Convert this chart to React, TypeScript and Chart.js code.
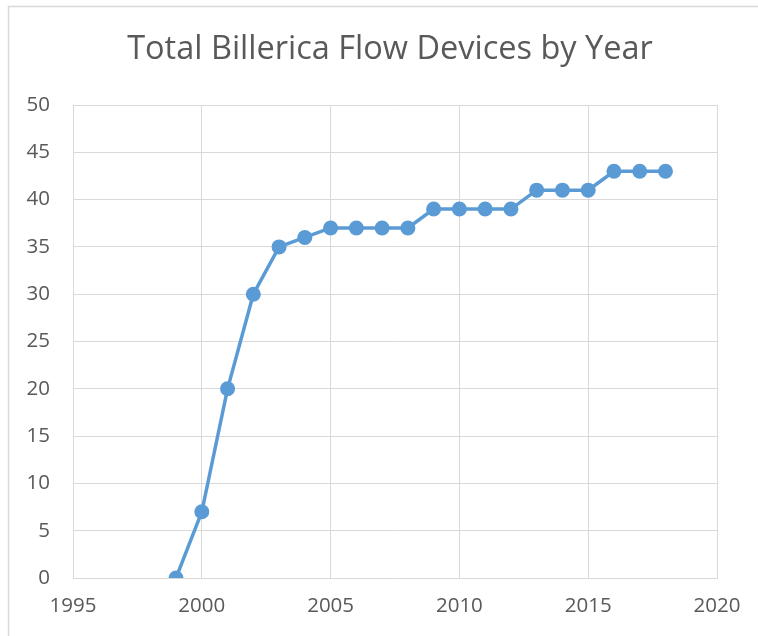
import React, { useEffect, useRef } from "react";
import { Chart, registerables } from "chart.js";

Chart.register(...registerables);

const years = [1999, 2000, 2001, 2002, 2003, 2004, 2005, 2006, 2007, 2008, 2009, 2010, 2011, 2012, 2013, 2014, 2015, 2016, 2017, 2018];
const devices = [0, 7, 20, 30, 35, 36, 37, 37, 37, 37, 39, 39, 39, 39, 41, 41, 41, 43, 43, 43];
const xTicks = [1995, 2000, 2005, 2010, 2015, 2020];
const yTicks = [0, 5, 10, 15, 20, 25, 30, 35, 40, 45, 50];
const titleText = "Total Billerica Flow Devices by Year";

const W = 758;
const H = 636;
const FONT = "'Open Sans', 'Noto Sans', sans-serif";
const TEXT = "#595959";
const GRID = "#d9d9d9";
const SERIES = "#5b9bd5";

const borderPlugin = {
  id: "outerBorder",
  beforeDraw(chart: any) {
    const ctx = chart.ctx;
    ctx.save();
    ctx.fillStyle = "#ffffff";
    ctx.fillRect(0, 0, chart.width, chart.height);
    ctx.strokeStyle = GRID;
    ctx.lineWidth = 1.5;
    ctx.strokeRect(8.5, 6.5, chart.width + 50, chart.height + 50);
    ctx.restore();
  },
};

export default function App() {
  const ref = useRef<HTMLCanvasElement | null>(null);

  useEffect(() => {
    if (!ref.current) return;
    const chart = new Chart(ref.current, {
      type: "line",
      data: {
        datasets: [
          {
            label: "Devices",
            data: years.map((y, i) => ({ x: y, y: devices[i] })),
            borderColor: SERIES,
            backgroundColor: SERIES,
            borderWidth: 3.5,
            pointRadius: 7.5,
            pointHoverRadius: 7.5,
            pointBackgroundColor: SERIES,
            pointBorderColor: SERIES,
            pointBorderWidth: 0,
            tension: 0,
            fill: false,
          },
        ],
      },
      options: {
        animation: false,
        responsive: false,
        maintainAspectRatio: false,
        layout: { padding: { left: 22, right: 0, top: 0, bottom: 0 } },
        plugins: {
          legend: { display: false },
          tooltip: { enabled: false },
          title: {
            display: true,
            text: titleText,
            color: TEXT,
            font: { family: FONT, size: 32.5, weight: "normal" as any },
            padding: { top: 30.5, bottom: 35.5 },
          },
        },
        scales: {
          x: {
            type: "linear",
            min: xTicks[0],
            max: xTicks[xTicks.length - 1],
            afterBuildTicks(scale: any) {
              scale.ticks = xTicks.map((v) => ({ value: v }));
            },
            afterFit(scale: any) {
              scale.height = 58;
            },
            ticks: {
              color: TEXT,
              font: { family: FONT, size: 20.5 },
              padding: 16,
              maxRotation: 0,
              callback: (v: any) => String(v),
            },
            grid: { color: GRID, lineWidth: 1, drawTicks: false },
            border: { color: GRID, width: 1 },
          },
          y: {
            type: "linear",
            min: yTicks[0],
            max: yTicks[yTicks.length - 1],
            afterBuildTicks(scale: any) {
              scale.ticks = yTicks.map((v) => ({ value: v }));
            },
            afterFit(scale: any) {
              scale.width = 51;
            },
            ticks: {
              color: TEXT,
              font: { family: FONT, size: 20.5 },
              padding: 23,
              callback: (v: any) => String(v),
            },
            grid: { color: GRID, lineWidth: 1, drawTicks: false },
            border: { color: GRID, width: 1 },
          },
          yRight: {
            type: "linear",
            position: "right",
            min: 0,
            max: 1,
            display: true,
            afterFit(scale: any) {
              scale.width = 41;
            },
            ticks: { display: false },
            grid: { display: false, drawTicks: false },
            border: { display: false },
          },
        },
      },
      plugins: [borderPlugin],
    });
    return () => chart.destroy();
  }, []);

  return (
    <div style={{ position: "fixed", left: 0, top: 0, width: W, height: H, background: "#fff" }}>
      <canvas ref={ref} width={W} height={H} style={{ display: "block", width: W, height: H }} />
    </div>
  );
}
